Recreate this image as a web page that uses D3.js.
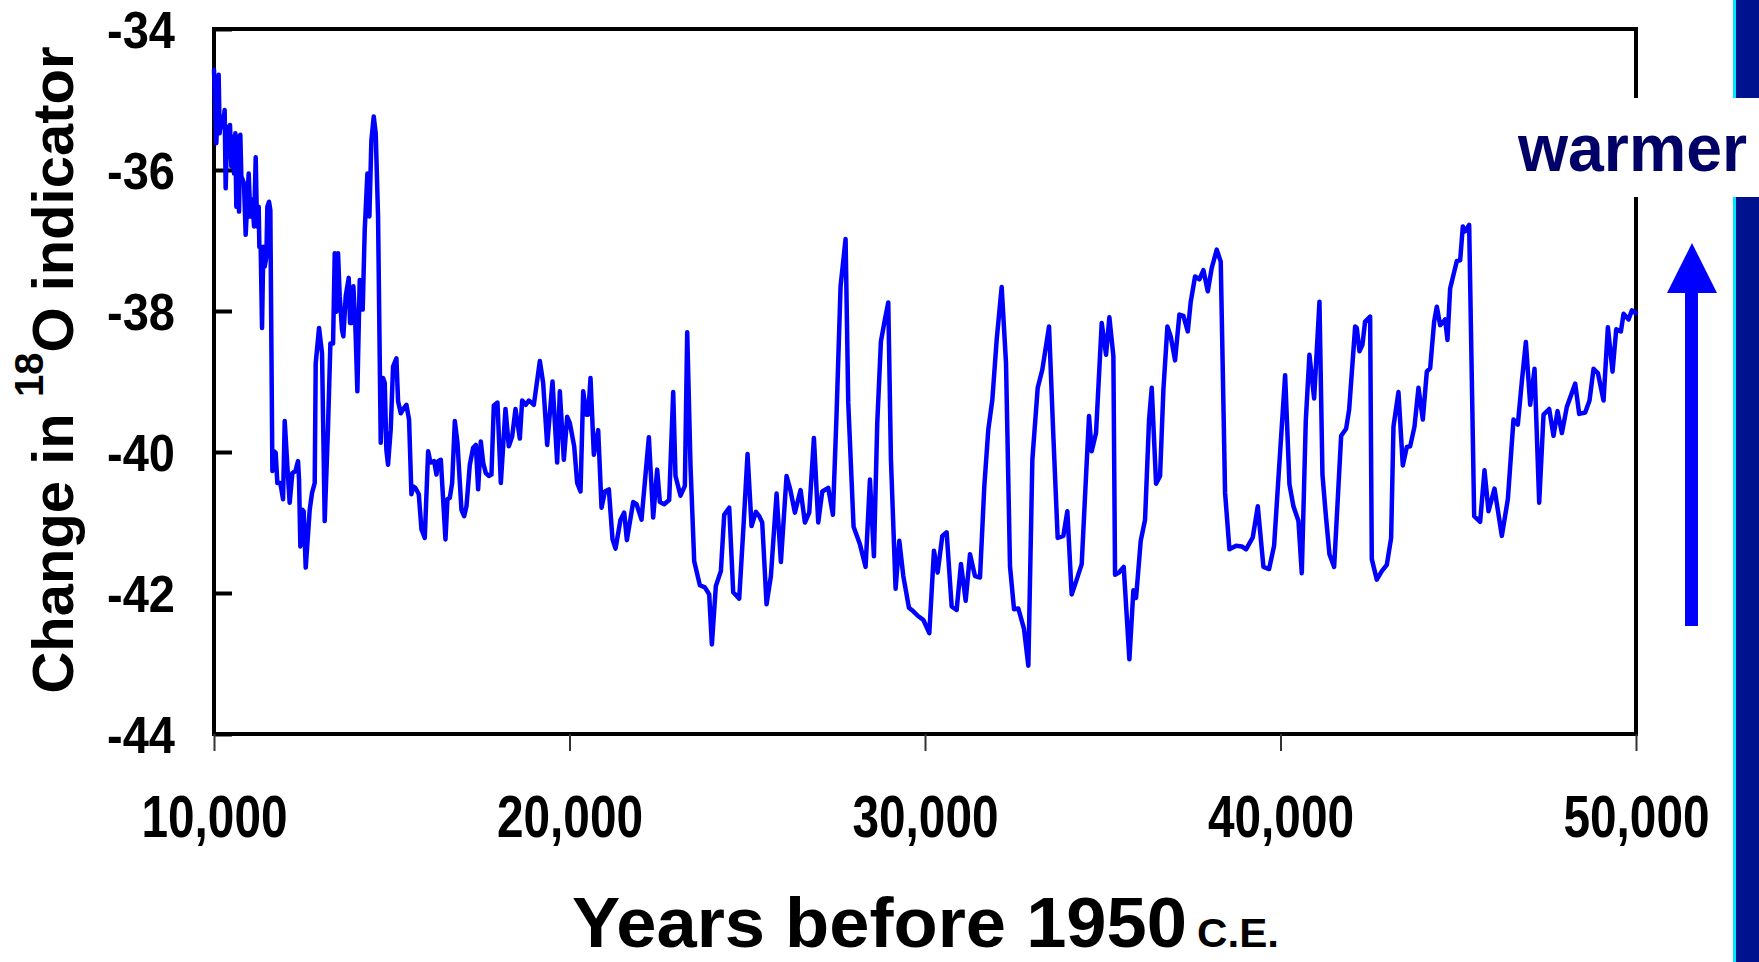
<!DOCTYPE html>
<html>
<head>
<meta charset="utf-8">
<script src="https://cdn.jsdelivr.net/npm/d3@7/dist/d3.min.js"></script>
<style>
  html, body { margin: 0; padding: 0; background: #ffffff; }
  svg { display: block; }
</style>
</head>
<body>
<svg id="chart" width="1759" height="962"></svg>
<script>
// ---- data (years before 1950 C.E., change in 18O indicator) ----
const years = [
  10000,10066,10131,10159,10206,10253,10300,10328,10375,10413,10450,10488,10535,10563,10600,10628,10675,10704,10741,10769,
  10844,10891,10976,11022,11079,11126,11173,11210,11257,11276,11313,11351,11388,11426,11473,11501,11548,11585,11642,11688,
  11735,11782,11867,11942,11989,12064,12129,12204,12289,12364,12392,12429,12486,12523,12580,12692,12758,12833,12861,12955,
  13039,13114,13208,13274,13349,13396,13442,13489,13536,13602,13639,13705,13790,13827,13883,13921,13977,14033,14099,14146,
  14183,14240,14315,14371,14427,14493,14549,14615,14690,14756,14803,14849,14896,14971,15037,15131,15178,15253,15337,15412,
  15487,15553,15600,15666,
  15761,15836,15929,16023,16089,16192,16258,16305,16380,16511,16567,16633,16699,16774,16849,16961,17036,17102,17196,17290,
  17365,17430,17505,17571,17646,17730,17805,17871,17974,18068,18199,18293,18387,18481,18603,18668,18772,18856,18931,18997,
  19166,19259,19372,19522,19653,19728,19841,19935,20010,20132,20216,20310,20385,20479,20526,20591,20685,20807,20901,20995,
  21107,21210,21295,21435,21539,21614,21792,21886,22026,
  22232,22354,22466,22542,22663,22804,22917,22982,23123,23245,23311,23404,23508,23667,23808,23930,24005,24117,24258,24352,
  24493,24605,24774,24905,25008,25121,25243,25337,25421,25543,25665,25825,25946,26106,26209,26340,26500,26622,26744,26875,
  26997,27110,27278,27410,27513,27625,27766,27841,27991,28170,28329,28451,28563,28657,28760,28873,28967,29042,29173,
  29277,29390,29549,29671,29812,29952,30121,30252,30356,30487,30609,30750,30890,31012,31144,31266,31406,31547,31669,31781,
  31894,32016,32157,32279,32391,32504,32626,32785,32907,33020,33170,33301,33489,33611,33732,33892,34004,34126,34267,34408,
  34520,34614,34689,34811,34971,35093,35186,35299,35346,35458,35590,35749,
  35862,35937,36068,36190,36303,36378,36500,36612,36706,36819,36912,37034,37156,37269,37391,37475,37597,37719,37832,37954,
  38066,38207,38319,38441,38563,38751,38910,39032,39220,39361,39520,39679,39820,39942,40130,40252,40364,40505,40599,40711,
  40814,40946,41096,41180,41274,41377,41509,41706,41846,41931,42100,
  42146,42221,42305,42380,42521,42568,42709,42849,42990,43112,43178,43318,43440,43553,43647,43769,43881,44003,44116,44210,
  44322,44397,44491,44585,44632,44697,44772,44960,45054,45129,45194,45307,45448,45616,45738,45851,46020,46226,46395,46554,
  46676,46789,46902,47024,47146,47277,47399,47558,47680,47793,47915,48055,48290,48402,48571,48693,48806,48928,49087,49209,
  49340,49444,49575,49650,49791,49884,49978,50000
];
const values = [
  -34.58,-35.62,-34.65,-35.48,-35.24,-35.39,-35.15,-36.26,-35.39,-35.81,-35.36,-35.95,-35.53,-36.05,-35.48,-36.52,-35.53,-36.59,-35.50,-36.09,
  -36.19,-36.92,-36.05,-36.66,-36.42,-36.80,-35.82,-36.80,-36.52,-37.09,-37.09,-38.24,-37.09,-37.37,-37.23,-36.52,-36.45,-36.57,-40.27,-39.99,
  -40.01,-40.44,-40.44,-40.67,-39.56,-40.20,-40.72,-40.30,-40.27,-40.13,-40.39,-41.34,-40.82,-40.84,-41.64,-40.82,-40.58,-40.44,-38.74,-38.24,
  -38.60,-40.98,-39.64,-38.46,-38.46,-37.18,-38.01,-37.18,-37.79,-38.27,-38.36,-37.79,-37.53,-38.17,-38.17,-37.65,-38.22,-39.14,-37.56,-37.98,
  -37.98,-36.85,-36.05,-36.66,-35.58,-35.24,-35.48,-36.66,-39.87,-38.95,-39.02,-39.97,-40.18,-39.68,-38.79,-38.67,-39.28,-39.45,-39.38,-39.33,
  -39.54,-40.60,-40.49,-40.51,
  -40.60,-41.10,-41.22,-39.99,-40.15,-40.13,-40.32,-40.13,-40.11,-41.24,-40.67,-40.65,-40.44,-39.56,-39.87,-40.82,-40.91,-40.77,-40.18,-39.94,
  -39.90,-40.53,-39.85,-40.15,-40.30,-40.34,-40.32,-39.34,-39.30,-40.44,-39.39,-39.92,-39.78,-39.39,-39.81,-39.27,-39.33,-39.27,-39.30,-39.33,
  -38.71,-39.02,-39.90,-39.00,-40.15,-39.14,-40.11,-39.50,-39.59,-39.92,-40.44,-40.56,-39.14,-39.47,-39.47,-38.95,-40.04,-39.69,-40.79,-40.56,
  -40.53,-41.24,-41.37,-40.96,-40.86,-41.25,-40.71,-40.74,-40.96,
  -39.79,-40.93,-40.25,-40.71,-40.74,-40.68,-39.15,-40.34,-40.62,-40.48,-38.30,-40.20,-41.55,-41.89,-41.92,-42.02,-42.73,-41.90,-41.69,-40.89,
  -40.79,-41.99,-42.08,-40.96,-40.03,-41.05,-40.85,-40.91,-41.00,-42.16,-41.76,-40.59,-41.56,-40.34,-40.53,-40.86,-40.54,-41.00,-40.86,-39.80,
  -41.00,-40.56,-40.51,-40.89,-39.45,-37.65,-36.98,-39.30,-41.06,-41.31,-41.63,-40.39,-41.48,-39.59,-38.43,-38.12,-37.88,-40.11,-41.94,
  -41.26,-41.76,-42.21,-42.26,-42.33,-42.38,-42.57,-41.40,-41.71,-41.19,-41.14,-42.19,-42.24,-41.59,-42.11,-41.45,-41.76,-41.78,-40.48,-39.68,
  -39.26,-38.41,-37.66,-38.74,-41.62,-42.23,-42.22,-42.51,-43.03,-40.11,-39.09,-38.83,-38.22,-39.78,-41.22,-41.19,-40.84,-42.02,-41.81,-41.59,
  -40.44,-39.49,-39.99,-39.73,-38.17,-38.62,-38.09,-38.64,-41.74,-41.71,-41.63,-42.94,
  -41.96,-42.07,-41.26,-40.96,-39.54,-39.09,-40.45,-40.34,-39.12,-38.22,-38.36,-38.70,-38.05,-38.07,-38.29,-37.87,-37.51,-37.55,-37.42,-37.72,
  -37.39,-37.13,-37.30,-40.58,-41.38,-41.33,-41.34,-41.38,-41.21,-40.77,-41.63,-41.66,-41.33,-40.37,-38.91,-40.46,-40.77,-40.98,-41.72,-39.56,
  -38.62,-39.24,-37.87,-40.32,-40.89,-41.45,-41.63,-39.77,-39.67,-39.40,-38.22,
  -38.24,-38.57,-38.48,-38.15,-38.08,-41.52,-41.81,-41.69,-41.60,-41.22,-39.64,-39.15,-40.19,-39.93,-39.92,-39.64,-39.09,-39.54,-38.86,-38.81,
  -38.15,-37.94,-38.20,-38.15,-38.12,-38.41,-37.68,-37.29,-37.28,-36.80,-36.87,-36.78,-40.91,-40.99,-40.26,-40.84,-40.52,-41.19,-40.67,-39.54,
  -39.61,-39.00,-38.44,-39.33,-38.82,-40.72,-39.47,-39.39,-39.77,-39.42,-39.73,-39.36,-39.03,-39.46,-39.44,-39.27,-38.82,-38.88,-39.27,-38.23,
  -38.86,-38.26,-38.29,-38.04,-38.12,-37.99,-38.03,-38.03
];
const xTickValues = [10000, 20000, 30000, 40000, 50000];
const yTickValues = [-44, -42, -40, -38, -36, -34];
const xDomain = [10000, 50000];
const yDomain = [-44, -34];
const xTitle = "Years before 1950";
const xTitleSuffix = "C.E.";
const yTitleParts = ["Change in ", "18", "O indicator"];
const noteText = "warmer";

// ---- layout ----
const FONT = "'Liberation Sans', Arial, Helvetica, sans-serif";
const L = 214, R = 1636, T = 29, B = 734;

const svg = d3.select("#chart");
const x = d3.scaleLinear().domain(xDomain).range([L, R]);
const y = d3.scaleLinear().domain(yDomain).range([B, T]);

// right decorative bar
svg.append("rect").attr("x", 1733).attr("y", 0).attr("width", 3).attr("height", 962).attr("fill", "#00e8ff");
svg.append("rect").attr("x", 1736).attr("y", 0).attr("width", 23).attr("height", 962).attr("fill", "#00128e");

// plot frame
svg.append("rect")
  .attr("x", L).attr("y", T).attr("width", R - L).attr("height", B - T)
  .attr("fill", "none").attr("stroke", "#000").attr("stroke-width", 4);

// y axis (ticks inside)
const yAxis = d3.axisLeft(y).tickValues(yTickValues)
  .tickSizeInner(-18).tickSizeOuter(0).tickPadding(39)
  .tickFormat(d => String(d));
const gy = svg.append("g").attr("transform", `translate(${L},0)`).call(yAxis);
gy.select(".domain").remove();
gy.selectAll(".tick line").attr("stroke", "#000").attr("stroke-width", 4);
gy.selectAll(".tick text")
  .attr("font-family", FONT).attr("font-weight", "bold").attr("font-size", 52)
  .attr("fill", "#000").attr("dy", "0.36em")
  .attr("textLength", 68).attr("lengthAdjust", "spacingAndGlyphs");

// x axis (ticks outside, thin)
const xAxis = d3.axisBottom(x).tickValues(xTickValues)
  .tickSizeInner(17).tickSizeOuter(0).tickPadding(43)
  .tickFormat(d3.format(","));
const gx = svg.append("g").attr("transform", `translate(0,${B})`).call(xAxis);
gx.select(".domain").remove();
gx.selectAll(".tick line").attr("stroke", "#333").attr("stroke-width", 2);
gx.selectAll(".tick text")
  .attr("font-family", FONT).attr("font-weight", "bold").attr("font-size", 60)
  .attr("fill", "#000")
  .attr("textLength", 146).attr("lengthAdjust", "spacingAndGlyphs");

// data line
const data = years.map((yr, i) => ({ yr, v: values[i] }));
const line = d3.line().x(d => x(d.yr)).y(d => y(d.v));
svg.append("path").datum(data)
  .attr("d", line)
  .attr("fill", "none").attr("stroke", "#0000ff").attr("stroke-width", 4.5)
  .attr("stroke-linejoin", "round").attr("stroke-linecap", "round");

// "warmer" label with white backing
svg.append("rect").attr("x", 1505).attr("y", 98).attr("width", 254).attr("height", 99).attr("fill", "#fff");
svg.append("text").attr("x", 1518).attr("y", 171)
  .attr("font-family", FONT).attr("font-weight", "bold").attr("font-size", 66)
  .attr("fill", "#000066")
  .attr("textLength", 229).attr("lengthAdjust", "spacingAndGlyphs")
  .text(noteText);

// arrow
svg.append("path")
  .attr("d", "M1667,293 L1692,243 L1717,293 Z M1685,292 L1698,292 L1698,626 L1685,626 Z")
  .attr("fill", "#0000ff");

// y title (rotated) with superscript
const yt = svg.append("text")
  .attr("transform", "translate(73,370) rotate(-90)")
  .attr("text-anchor", "middle")
  .attr("font-family", FONT).attr("font-weight", "bold").attr("font-size", 58)
  .attr("fill", "#000");
yt.append("tspan").text(yTitleParts[0]);
yt.append("tspan").attr("font-size", 40).attr("dy", -30).text(yTitleParts[1]);
yt.append("tspan").attr("dy", 30).text(yTitleParts[2]);

// x title
svg.append("text").attr("x", 572).attr("y", 947)
  .attr("font-family", FONT).attr("font-weight", "bold").attr("font-size", 70)
  .attr("fill", "#000")
  .attr("textLength", 615).attr("lengthAdjust", "spacingAndGlyphs")
  .text(xTitle);
svg.append("text").attr("x", 1197).attr("y", 947)
  .attr("font-family", FONT).attr("font-weight", "bold").attr("font-size", 40)
  .attr("fill", "#000")
  .attr("textLength", 82).attr("lengthAdjust", "spacingAndGlyphs")
  .text(xTitleSuffix);
</script>
</body>
</html>
